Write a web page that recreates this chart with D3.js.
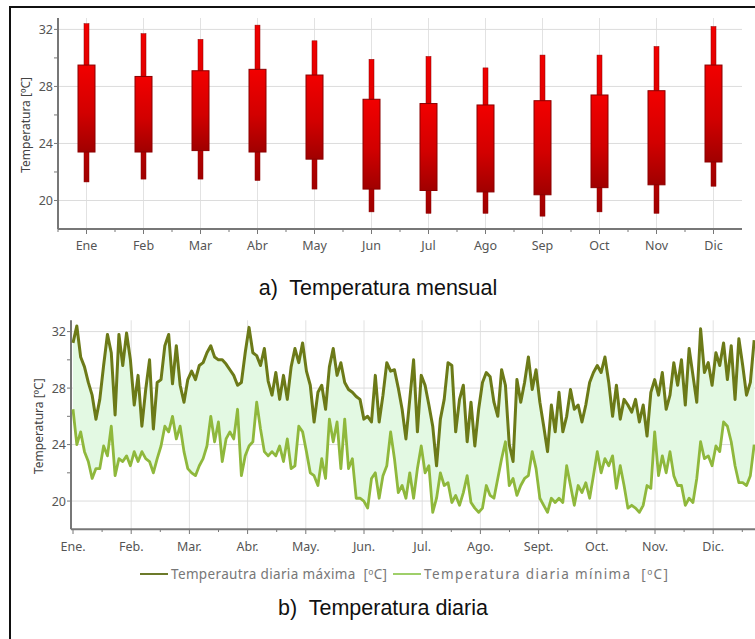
<html>
<head>
<script src="https://d3js.org/d3.v7.min.js"></script>
<style>
body { margin: 0; background: #fff; }
svg { display: block; }
.tick-label { font-family: "Noto Sans", sans-serif; font-size: 12.5px; fill: #555; }
.axis-title { font-family: "Noto Sans", sans-serif; font-size: 12px; fill: #444; }
.caption { font-family: "Liberation Sans", Arial, sans-serif; font-size: 21.5px; fill: #111; }
.legend-text { font-family: "Noto Sans", sans-serif; font-size: 13.5px; fill: #777; }
</style>
</head>
<body>
<script>
// monthly candles (a)
const months = ["Ene", "Feb", "Mar", "Abr", "May", "Jun", "Jul", "Ago", "Sep", "Oct", "Nov", "Dic"];
const monthHigh = [32.4, 31.7, 31.3, 32.3, 31.2, 29.9, 30.1, 29.3, 30.2, 30.2, 30.8, 32.2];
const monthBoxTop = [29.5, 28.7, 29.1, 29.2, 28.8, 27.1, 26.8, 26.7, 27.0, 27.4, 27.7, 29.5];
const monthBoxBottom = [23.4, 23.4, 23.5, 23.4, 22.9, 20.8, 20.7, 20.6, 20.4, 20.9, 21.1, 22.7];
const monthLow = [21.3, 21.5, 21.5, 21.4, 20.8, 19.2, 19.1, 19.1, 18.9, 19.2, 19.1, 21.0];

// daily series (b), one reading every 2 days starting Jan 1
const dayStep = 2;
const dailyMax = [31.2, 32.4, 30.2, 29.5, 28.4, 27.5, 25.8, 27.2, 29.6, 31.8,
  30.5, 26.1, 31.8, 29.6, 31.9, 30.0, 26.8, 28.9, 25.3, 27.9,
  30.0, 25.1, 28.4, 28.6, 31.0, 31.8, 28.3, 31.0, 28.2, 27.0,
  28.6, 29.2, 28.6, 29.6, 29.8, 30.5, 31.0, 30.2, 30.0, 30.0,
  29.7, 29.3, 28.9, 28.2, 28.4, 30.5, 32.3, 30.5, 30.3, 29.6,
  30.8, 28.5, 27.5, 29.1, 27.2, 28.9, 27.2, 29.5, 30.8, 29.8,
  31.2, 29.2, 28.2, 25.6, 27.7, 28.2, 26.5, 29.5, 30.8, 28.9,
  29.8, 28.4, 27.9, 27.7, 27.4, 27.2, 25.8, 26.0, 25.6, 28.9,
  25.6, 27.5, 29.8, 29.2, 29.3, 28.0, 26.5, 24.4, 27.2, 30.0,
  24.9, 28.9, 28.2, 26.8, 25.3, 22.5, 25.8, 27.2, 29.8, 29.6,
  24.9, 27.2, 28.2, 24.2, 27.0, 23.9, 26.5, 28.4, 29.1, 28.8,
  27.0, 26.0, 29.3, 28.2, 24.0, 22.8, 28.6, 27.0, 28.4, 30.2,
  27.9, 29.3, 27.0, 25.3, 23.5, 26.8, 24.9, 27.7, 24.9, 26.0,
  27.9, 26.5, 26.8, 25.6, 26.8, 28.4, 29.1, 29.6, 29.1, 30.2,
  28.4, 26.0, 28.2, 25.8, 27.2, 26.8, 26.3, 27.2, 25.6, 26.8,
  24.6, 27.7, 28.6, 27.5, 29.1, 26.5, 27.5, 29.8, 28.2, 30.0,
  26.8, 30.8, 28.9, 27.0, 32.2, 29.1, 29.8, 28.2, 30.5, 29.6,
  31.2, 28.6, 31.0, 27.2, 31.5, 29.6, 27.5, 28.4, 31.4];
const dailyMin = [26.5, 24.0, 24.9, 23.5, 22.8, 21.6, 22.3, 22.3, 23.9, 23.2,
  25.3, 21.8, 23.0, 22.8, 23.2, 22.5, 23.5, 22.8, 23.5, 23.0,
  22.8, 22.0, 23.0, 23.9, 25.3, 24.9, 26.0, 24.4, 25.3, 23.5,
  22.3, 22.0, 21.8, 22.5, 23.0, 23.9, 26.0, 24.2, 25.6, 22.8,
  24.4, 24.9, 24.4, 26.5, 21.8, 23.2, 23.9, 24.2, 27.0, 25.1,
  23.5, 23.2, 23.5, 23.2, 23.9, 22.8, 24.4, 22.3, 22.5, 25.3,
  24.9, 23.5, 22.0, 21.8, 21.1, 23.0, 21.6, 25.8, 24.2, 25.6,
  22.3, 25.8, 22.3, 23.0, 20.2, 20.2, 20.0, 19.5, 21.6, 22.0,
  20.2, 21.8, 22.5, 24.9, 23.0, 20.6, 21.1, 20.2, 22.0, 20.2,
  22.3, 23.9, 22.0, 22.5, 19.2, 20.2, 22.0, 21.1, 21.3, 19.9,
  20.4, 19.7, 20.6, 21.8, 19.9, 19.5, 19.2, 19.5, 21.1, 20.4,
  20.2, 21.6, 23.0, 24.2, 21.1, 21.6, 20.4, 21.1, 21.6, 21.8,
  23.5, 22.3, 20.2, 19.7, 19.2, 20.2, 19.9, 20.2, 19.9, 22.5,
  21.1, 19.7, 21.1, 20.6, 21.3, 20.2, 21.8, 23.5, 22.0, 23.0,
  22.5, 23.2, 20.9, 22.5, 21.1, 19.5, 19.7, 19.5, 19.2, 19.7,
  21.1, 20.9, 24.9, 21.8, 23.2, 22.0, 23.5, 21.8, 21.1, 21.1,
  19.7, 20.2, 19.9, 21.6, 24.2, 23.0, 23.2, 22.5, 23.9, 23.5,
  25.6, 25.3, 24.2, 22.5, 21.3, 21.3, 21.1, 21.8, 24.0];
const dailyMonths = ["Ene.", "Feb.", "Mar.", "Abr.", "May.", "Jun.", "Jul.", "Ago.", "Sept.", "Oct.", "Nov.", "Dic."];
const yTicks = [20, 24, 28, 32];
const yMinorTicks = [22, 26, 30];
const legendLabels = ["Temperautra diaria máxima  [ºC]", "Temperatura diaria mínima  [ºC]"];

const W = 755, H = 639;
const svg = d3.select("body").append("svg").attr("width", W).attr("height", H);

const defs = svg.append("defs");
const grad = defs.append("linearGradient").attr("id", "candle").attr("x1", 0).attr("y1", 0).attr("x2", 0).attr("y2", 1);
grad.append("stop").attr("offset", "0%").attr("stop-color", "#f20000");
grad.append("stop").attr("offset", "55%").attr("stop-color", "#d20000");
grad.append("stop").attr("offset", "100%").attr("stop-color", "#a00000");
defs.append("clipPath").attr("id", "clipB").append("rect")
  .attr("x", 71).attr("y", 300).attr("width", 700).attr("height", 232);

// outer frame
svg.append("rect").attr("x", 10).attr("y", 7).attr("width", 800).attr("height", 700)
  .attr("fill", "none").attr("stroke", "#111").attr("stroke-width", 2);

function yAxis(g, y, x0, x1) {
  g.append("g").selectAll("line").data(yTicks).join("line")
    .attr("x1", x0).attr("x2", x1).attr("y1", d => y(d)).attr("y2", d => y(d))
    .attr("stroke", "#dcdcdc").attr("stroke-width", 1);
  g.append("line").attr("x1", x0).attr("x2", x0).attr("y1", y.range()[0]).attr("y2", y.range()[1])
    .attr("stroke", "#777").attr("stroke-width", 2);
  g.append("g").selectAll("line").data(yTicks.concat(yMinorTicks)).join("line")
    .attr("x1", x0 - 4).attr("x2", x0).attr("y1", d => y(d)).attr("y2", d => y(d))
    .attr("stroke", "#777").attr("stroke-width", 1);
  g.append("g").selectAll("text").data(yTicks).join("text")
    .attr("class", "tick-label").attr("x", x0 - 5).attr("y", d => y(d) + 4.5)
    .attr("text-anchor", "end").text(d => d);
}

// ---------- a) monthly ----------
const ax = d3.scaleBand().domain(months).range([58, 742]);
const ay = d3.scaleLinear().domain([18, 32.8]).range([229, 18]);
const ga = svg.append("g");
ga.append("g").selectAll("line").data(months).join("line")
  .attr("x1", d => ax(d) + ax.bandwidth() / 2).attr("x2", d => ax(d) + ax.bandwidth() / 2)
  .attr("y1", ay(32.8)).attr("y2", ay(18)).attr("stroke", "#e2e2e2");
yAxis(ga, ay, 58, 742);
ga.append("line").attr("x1", 58).attr("x2", 742).attr("y1", 229).attr("y2", 229)
  .attr("stroke", "#777").attr("stroke-width", 2);
ga.append("g").selectAll("line").data(months).join("line")
  .attr("x1", d => ax(d) + ax.bandwidth() / 2).attr("x2", d => ax(d) + ax.bandwidth() / 2)
  .attr("y1", 229).attr("y2", 234).attr("stroke", "#777");
ga.append("g").selectAll("line").data(months).join("line")
  .attr("x1", d => ax(d)).attr("x2", d => ax(d))
  .attr("y1", 229).attr("y2", 232).attr("stroke", "#777");
ga.append("g").selectAll("text").data(months).join("text")
  .attr("class", "tick-label").attr("x", d => ax(d) + ax.bandwidth() / 2).attr("y", 250)
  .attr("text-anchor", "middle").text(d => d);
ga.append("text").attr("class", "axis-title")
  .attr("transform", "translate(30," + ay(25.3) + ") rotate(-90)")
  .attr("text-anchor", "middle").text("Temperatura [ºC]");

const candles = ga.append("g").selectAll("g").data(months).join("g");
candles.append("rect")
  .attr("x", d => ax(d) + ax.bandwidth() / 2 - 2.5).attr("width", 5)
  .attr("y", (d, i) => ay(monthHigh[i])).attr("height", (d, i) => ay(monthLow[i]) - ay(monthHigh[i]))
  .attr("fill", "url(#candle)").attr("stroke", "#8a0000").attr("stroke-width", 0.5);
candles.append("rect")
  .attr("x", d => ax(d) + ax.bandwidth() / 2 - 8.5).attr("width", 17)
  .attr("y", (d, i) => ay(monthBoxTop[i])).attr("height", (d, i) => ay(monthBoxBottom[i]) - ay(monthBoxTop[i]))
  .attr("fill", "url(#candle)").attr("stroke", "#8a0000").attr("stroke-width", 1);

svg.append("text").attr("class", "caption").attr("x", 378).attr("y", 295)
  .attr("text-anchor", "middle").attr("xml:space", "preserve").text("a)  Temperatura mensual");

// ---------- b) daily ----------
const bx = d3.scaleLinear().domain([0, 12]).range([73, 771.4]);
const by = d3.scaleLinear().domain([18, 32.8]).range([529.3, 320.3]);
const dayToMonth = d => d * 12 / 365;
const gb = svg.append("g");
gb.append("g").selectAll("line").data(d3.range(1, 12)).join("line")
  .attr("x1", d => bx(d)).attr("x2", d => bx(d)).attr("y1", by(32.8)).attr("y2", by(18))
  .attr("stroke", "#e2e2e2");
yAxis(gb, by, 71, 760);

const plot = gb.append("g").attr("clip-path", "url(#clipB)");
const area = d3.area()
  .x((d, i) => bx(dayToMonth(i * dayStep)))
  .y0((d, i) => by(dailyMin[i]))
  .y1(d => by(d));
plot.append("path").datum(dailyMax).attr("d", area).attr("fill", "#e3f9e3");
const line = d3.line().x((d, i) => bx(dayToMonth(i * dayStep))).y(d => by(d));
plot.append("path").datum(dailyMin).attr("d", line)
  .attr("fill", "none").attr("stroke", "#8fb83c").attr("stroke-width", 2.8).attr("stroke-linejoin", "round");
plot.append("path").datum(dailyMax).attr("d", line)
  .attr("fill", "none").attr("stroke", "#6c7a18").attr("stroke-width", 3).attr("stroke-linejoin", "round");

gb.append("line").attr("x1", 71).attr("x2", 760).attr("y1", 529.3).attr("y2", 529.3)
  .attr("stroke", "#777").attr("stroke-width", 2);
gb.append("g").selectAll("line").data(d3.range(0, 12)).join("line")
  .attr("x1", d => bx(d)).attr("x2", d => bx(d)).attr("y1", 529.3).attr("y2", 534).attr("stroke", "#777");
gb.append("g").selectAll("line").data(d3.range(0.5, 12, 1)).join("line")
  .attr("x1", d => bx(d)).attr("x2", d => bx(d)).attr("y1", 529.3).attr("y2", 532).attr("stroke", "#777");
gb.append("g").selectAll("text").data(dailyMonths).join("text")
  .attr("class", "tick-label").attr("x", (d, i) => bx(i)).attr("y", 551)
  .attr("text-anchor", "middle").text(d => d);
gb.append("text").attr("class", "axis-title")
  .attr("transform", "translate(43," + by(25.3) + ") rotate(-90)")
  .attr("text-anchor", "middle").text("Temperatura [ºC]");

// legend
const legend = svg.append("g");
const legendColors = ["#6c7a2a", "#9fcf6a"];
const legendX = [140, 393];
const legendW = [216, 244];
legendLabels.forEach((t, i) => {
  legend.append("line").attr("x1", legendX[i]).attr("x2", legendX[i] + 28).attr("y1", 574).attr("y2", 574)
    .attr("stroke", legendColors[i]).attr("stroke-width", 2);
  legend.append("text").attr("class", "legend-text").attr("x", legendX[i] + 31).attr("y", 579)
    .attr("xml:space", "preserve").attr("textLength", legendW[i]).attr("lengthAdjust", "spacing").text(t);
});

svg.append("text").attr("class", "caption").attr("x", 383).attr("y", 615)
  .attr("text-anchor", "middle").attr("xml:space", "preserve").text("b)  Temperatura diaria");
</script>
</body>
</html>
